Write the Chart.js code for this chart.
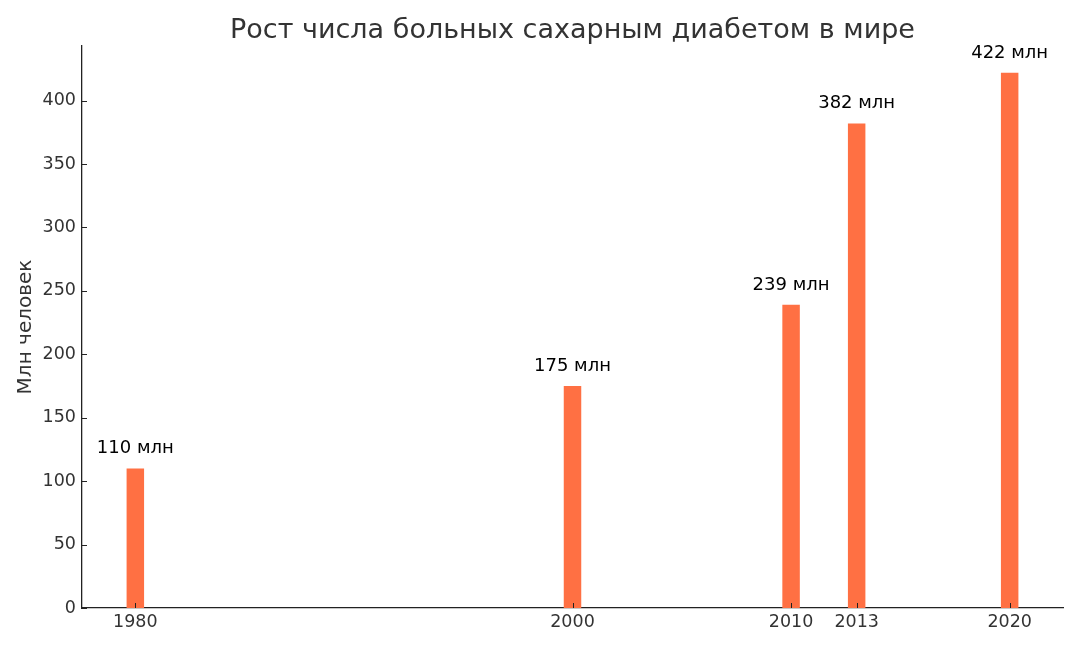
<!DOCTYPE html>
<html>
<head>
<meta charset="utf-8">
<script src="https://cdn.jsdelivr.net/npm/chart.js@4.4.1/dist/chart.umd.min.js"></script>
<style>
html, body { margin: 0; padding: 0; background: #fff; }
#wrap { width: 1080px; height: 648px; }
</style>
</head>
<body>
<div id="wrap"><canvas id="chart"></canvas></div>
<script>
// data
const years = [1980, 2000, 2010, 2013, 2020];
const patients = [110, 175, 239, 382, 422];
const barLabels = ['110 млн', '175 млн', '239 млн', '382 млн', '422 млн'];
const chartTitle = 'Рост числа больных сахарным диабетом в мире';

const BAR_YEARS = 0.8;
const FONT = '"DejaVu Sans", sans-serif';
const TEXT = '#333333';

// bar width in chart.js is a fraction of the smallest gap between bars
let minGap = Infinity;
for (let i = 1; i < years.length; i++) {
    minGap = Math.min(minGap, years[i] - years[i - 1]);
}

// matplotlib style 5% margins around the data
const xLo = years[0] - BAR_YEARS / 2;
const xHi = years[years.length - 1] + BAR_YEARS / 2;
const xPad = (xHi - xLo) * 0.05;
const yMax = Math.max(...patients) * 1.05;

const valueLabels = {
    id: 'valueLabels',
    afterDatasetsDraw(chart) {
        const ctx = chart.ctx;
        const meta = chart.getDatasetMeta(0);
        ctx.save();
        ctx.font = '18px ' + FONT;
        ctx.fillStyle = '#000';
        ctx.textAlign = 'center';
        ctx.textBaseline = 'alphabetic';
        meta.data.forEach((bar, i) => {
            ctx.fillText(barLabels[i], bar.x, bar.y - 15);
        });
        ctx.restore();
    }
};

// title centred over the plot area, not the whole canvas
const axesTitle = {
    id: 'axesTitle',
    afterDraw(chart) {
        const ctx = chart.ctx;
        const area = chart.chartArea;
        ctx.save();
        ctx.font = '27px ' + FONT;
        ctx.fillStyle = TEXT;
        ctx.textAlign = 'center';
        ctx.textBaseline = 'alphabetic';
        ctx.fillText(chartTitle, (area.left + area.right) / 2, 38);
        ctx.restore();
    }
};

// ticks pointing into the plot, like the original
const innerTicks = {
    id: 'innerTicks',
    afterDraw(chart) {
        const ctx = chart.ctx;
        const area = chart.chartArea;
        const x = chart.scales.x;
        const y = chart.scales.y;
        ctx.save();
        ctx.strokeStyle = '#222';
        ctx.lineWidth = 1;
        ctx.beginPath();
        x.ticks.forEach((t, i) => {
            const px = Math.round(x.getPixelForTick(i)) + 0.5;
            ctx.moveTo(px, area.bottom);
            ctx.lineTo(px, area.bottom - 5);
        });
        y.ticks.forEach((t, i) => {
            const py = Math.round(y.getPixelForTick(i)) + 0.5;
            ctx.moveTo(area.left, py);
            ctx.lineTo(area.left + 5, py);
        });
        ctx.stroke();
        ctx.restore();
    }
};

new Chart(document.getElementById('chart'), {
    type: 'bar',
    data: {
        datasets: [{
            data: years.map((yr, i) => ({ x: yr, y: patients[i] })),
            backgroundColor: '#ff7043',
            borderWidth: 0,
            categoryPercentage: 1,
            barPercentage: BAR_YEARS / minGap
        }]
    },
    options: {
        responsive: true,
        maintainAspectRatio: false,
        animation: false,
        layout: { padding: { left: 0, right: 17, top: 46, bottom: 0 } },
        plugins: {
            legend: { display: false },
            tooltip: { enabled: false },
            title: { display: false }
        },
        scales: {
            x: {
                type: 'linear',
                offset: false,
                min: xLo - xPad,
                max: xHi + xPad,
                afterBuildTicks(scale) {
                    scale.ticks = years.map(v => ({ value: v }));
                },
                afterFit(scale) { scale.height = 40; },
                grid: { display: false, drawTicks: false, offset: false },
                border: { display: true, color: '#222', width: 1.3 },
                ticks: {
                    color: TEXT,
                    padding: 4,
                    maxRotation: 0,
                    autoSkip: false,
                    font: { family: FONT, size: 17.5 },
                    callback: v => String(v)
                }
            },
            y: {
                min: 0,
                max: yMax,
                afterFit(scale) { scale.width = 82; },
                grid: { display: false, drawTicks: false },
                border: { display: true, color: '#222', width: 1.3 },
                ticks: {
                    color: TEXT,
                    stepSize: 50,
                    includeBounds: false,
                    padding: 6,
                    font: { family: FONT, size: 17.5 }
                },
                title: {
                    display: true,
                    text: 'Млн человек',
                    color: TEXT,
                    font: { family: FONT, size: 20 },
                    padding: { top: 14, bottom: 0 }
                }
            }
        }
    },
    plugins: [valueLabels, axesTitle, innerTicks]
});
</script>
</body>
</html>
